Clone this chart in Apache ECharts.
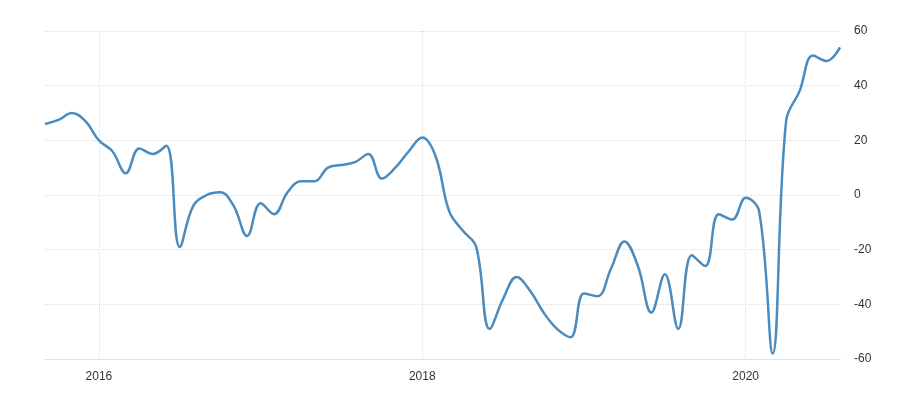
<!DOCTYPE html>
<html lang="en">
<head>
    <meta charset="UTF-8">
    <script src="https://cdn.jsdelivr.net/npm/echarts@6/dist/echarts.min.js"></script>
</head>
<body style="margin:0">
    <div id="main" style="width: 899px; height: 400px;"></div>
    <script>
        // monthly, Sep 2015 .. Aug 2020
        var months = [];
        for (var y = 2015; y <= 2020; y++) {
            for (var m = 1; m <= 12; m++) {
                if ((y === 2015 && m < 9) || (y === 2020 && m > 8)) continue;
                months.push(y + '-' + (m < 10 ? '0' + m : m));
            }
        }
        var values = [26, 27.5, 30, 27,
            20, 16, 8, 17, 15, 18, -19, -4, 0, 1, -4, -15,
            -3, -7, 1, 5, 5, 10, 11, 12, 15, 6, 10, 16,
            21, 14, -6, -13, -19, -49, -38, -30, -35, -43, -49, -52,
            -36, -37, -27, -17, -26, -43, -29, -49, -22, -26, -7, -9,
            -1, -6, -58, 27, 38, 51, 49, 54];
        var yearTicks = ['2016-01', '2018-01', '2020-01'];

        function isYearTick(i) { return yearTicks.indexOf(months[i]) >= 0; }

        var chart = echarts.init(document.getElementById('main'));
        chart.setOption({
            animation: false,
            grid: { left: 45, right: 59, top: 31, bottom: 41 },
            xAxis: {
                type: 'category',
                data: months,
                boundaryGap: false,
                axisLine: { onZero: false, lineStyle: { color: '#ddd', type: 'dotted' } },
                axisTick: { show: false },
                axisLabel: {
                    interval: isYearTick,
                    formatter: function (v) { return v.slice(0, 4); },
                    color: '#333', fontSize: 12, fontFamily: 'Liberation Sans', margin: 12
                },
                splitLine: {
                    show: true,
                    interval: isYearTick,
                    lineStyle: { color: '#ddd', type: 'dotted' }
                }
            },
            yAxis: {
                type: 'value',
                position: 'right',
                min: -60, max: 60, interval: 20,
                axisLine: { show: false },
                axisTick: { show: false },
                axisLabel: { color: '#333', fontSize: 12, fontFamily: 'Liberation Sans', margin: 14 },
                splitLine: { lineStyle: { color: '#ddd', type: 'dotted' } }
            },
            series: [{
                type: 'line',
                data: values,
                smooth: 0.4,
                showSymbol: false,
                lineStyle: { color: '#4a8cc0', width: 2.5 }
            }]
        });
    </script>
</body>
</html>
